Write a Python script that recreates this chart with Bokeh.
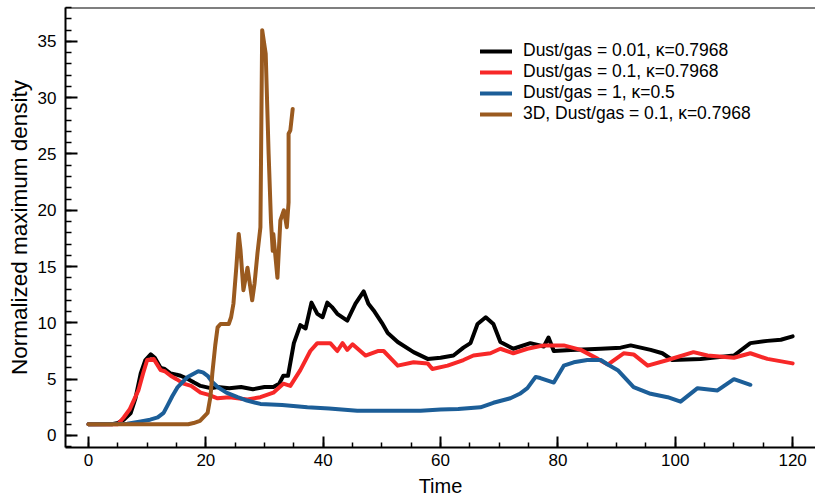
from bokeh.plotting import figure
from bokeh.models import Legend, LegendItem, Range1d, SingleIntervalTicker, Span
from bokeh.embed import file_html
from bokeh.resources import INLINE

# Dust/gas = 0.01, kappa=0.7968
black_x = [0, 4, 5, 6, 7.2, 8, 8.9, 9.7, 10.6, 11.3, 12.3, 13, 14, 15, 15.7, 17, 18, 19.1, 20.8, 22, 24, 26, 28, 30, 31.5, 32.5, 33.2, 34, 35, 36.1, 37, 38, 39, 39.9, 40.7, 41.5, 42.4, 44.1, 45.5, 46.9, 47.7, 48.6, 50, 51, 52.7, 55.4, 57.8, 60, 62.2, 63.9, 65.1, 66.3, 67.7, 69, 70.2, 72.4, 75.3, 77.6, 78.4, 79.3, 82.2, 87.3, 90.7, 92.4, 95.8, 97.8, 99.5, 104.3, 110, 112.8, 115.7, 118, 120]
black_y = [1, 1, 1.1, 1.4, 2.0, 3.3, 5.5, 6.7, 7.2, 6.9, 6.0, 5.9, 5.5, 5.4, 5.3, 5.0, 4.7, 4.4, 4.2, 4.3, 4.2, 4.3, 4.1, 4.3, 4.3, 4.6, 5.3, 5.3, 8.2, 9.8, 9.5, 11.8, 10.8, 10.5, 11.8, 11.4, 10.8, 10.2, 11.7, 12.8, 11.7, 11.1, 10.0, 9.1, 8.3, 7.4, 6.8, 6.9, 7.1, 7.8, 8.2, 9.9, 10.5, 9.9, 8.3, 7.7, 8.2, 7.9, 8.7, 7.5, 7.6, 7.7, 7.8, 8.0, 7.6, 7.3, 6.7, 6.8, 7.1, 8.2, 8.4, 8.5, 8.8]

# Dust/gas = 0.1, kappa=0.7968
red_x = [0, 5, 6, 7, 8.5, 9.3, 10, 11.1, 12.3, 13, 14, 15, 16.2, 17.5, 19.1, 20.5, 22, 24, 27.1, 29.3, 31.5, 33.2, 34.4, 36.1, 37.8, 39, 41.2, 42.4, 43.3, 44.1, 45, 47.2, 49.3, 50.3, 52.7, 55.4, 57.8, 58.6, 61.2, 63.9, 65.6, 68.5, 70.2, 72.4, 74.8, 77.6, 81, 83.9, 86.8, 88.5, 91.2, 92.9, 95.3, 98.7, 103.1, 105.5, 110, 112.8, 115.7, 120]
red_y = [1, 1, 1.6, 2.3, 4.0, 5.5, 6.7, 6.8, 5.8, 5.7, 5.3, 5.0, 4.6, 4.4, 3.8, 3.6, 3.3, 3.4, 3.2, 3.4, 3.8, 4.6, 4.4, 5.8, 7.5, 8.2, 8.2, 7.5, 8.2, 7.6, 8.1, 7.1, 7.5, 7.5, 6.2, 6.5, 6.4, 5.9, 6.2, 6.7, 7.1, 7.3, 7.7, 7.3, 7.7, 8.0, 8.0, 7.6, 6.8, 6.3, 7.3, 7.2, 6.2, 6.7, 7.4, 7.1, 6.9, 7.3, 6.8, 6.4]

# Dust/gas = 1, kappa=0.5
blue_x = [0, 6.6, 8.9, 10.5, 11.8, 12.8, 13.5, 14.3, 15.2, 16.9, 18.7, 19.5, 20.3, 21, 22, 23.5, 25.4, 27, 29.3, 33, 37.3, 41, 45.8, 50, 54.4, 56.6, 60, 63, 66.8, 69, 71.9, 73.5, 74.8, 76.2, 77, 79.3, 81, 82.7, 85, 87.3, 88.5, 90.2, 92.9, 95.8, 98.7, 100.9, 103.8, 107.2, 110, 112.8]
blue_y = [1, 1.05, 1.25, 1.4, 1.6, 2.0, 2.7, 3.5, 4.3, 5.2, 5.7, 5.6, 5.3, 4.8, 4.3, 3.8, 3.4, 3.1, 2.8, 2.7, 2.5, 2.4, 2.2, 2.2, 2.2, 2.2, 2.3, 2.35, 2.5, 2.9, 3.3, 3.7, 4.2, 5.2, 5.1, 4.7, 6.2, 6.5, 6.7, 6.7, 6.3, 5.8, 4.3, 3.7, 3.4, 3.0, 4.2, 4.0, 5.0, 4.5]

# 3D, Dust/gas = 0.1, kappa=0.7968
brown_x = [0, 17, 17.9, 19, 20.3, 20.8, 21.1, 21.6, 22, 22.5, 23.9, 24.3, 24.7, 25.2, 25.6, 25.9, 26.4, 27.1, 27.9, 28.3, 28.8, 29.3, 29.6, 30.2, 30.7, 31.1, 31.4, 31.5, 32.2, 32.7, 33.3, 33.8, 34.1, 34.1, 34.4, 34.8]
brown_y = [1, 1.0, 1.1, 1.3, 2.0, 3.5, 5.5, 8.0, 9.6, 9.9, 9.9, 10.5, 11.7, 15.0, 17.9, 16.5, 12.9, 14.9, 12.0, 13.5, 16.2, 18.5, 36.0, 33.9, 25.0, 19.0, 16.4, 17.9, 14.0, 19.1, 20.0, 18.5, 20.7, 26.8, 27.1, 29.0]

labels = ["Dust/gas = 0.01, \u03ba=0.7968", "Dust/gas = 0.1, \u03ba=0.7968",
          "Dust/gas = 1, \u03ba=0.5", "3D, Dust/gas = 0.1, \u03ba=0.7968"]
colors = ["black", "#f72828", "#1c5e98", "#9a5a1f"]

FONT = "Liberation Sans"
Y_END = 38.01

p = figure(width=815, height=501, x_range=Range1d(-3.92, 123.9), y_range=Range1d(-1.07, Y_END),
           output_backend="svg", toolbar_location=None,
           min_border_left=65, min_border_right=0, min_border_top=7, min_border_bottom=54)
p.outline_line_color = None
p.xgrid.visible = False
p.ygrid.visible = False
p.background_fill_color = "white"
p.border_fill_color = "white"

p.xaxis.ticker = SingleIntervalTicker(interval=20, num_minor_ticks=4)
p.yaxis.ticker = SingleIntervalTicker(interval=5, num_minor_ticks=5)
p.xaxis.axis_label = "Time"
p.yaxis.axis_label = "Normalized maximum density"

for ax in (p.xaxis, p.yaxis):
    ax.axis_line_width = 2
    ax.axis_line_color = "black"
    ax.major_tick_out = 0
    ax.minor_tick_out = 0
    ax.major_tick_line_width = 2
    ax.minor_tick_line_width = 1.5
    ax.major_tick_line_color = "black"
    ax.minor_tick_line_color = "black"
    ax.major_label_text_font = FONT
    ax.major_label_text_font_size = "17px"
    ax.major_label_text_color = "black"
    ax.axis_label_text_font = FONT
    ax.axis_label_text_font_style = "normal"
    ax.axis_label_text_color = "black"

p.xaxis.major_tick_in = 11
p.xaxis.minor_tick_in = 5
p.yaxis.major_tick_in = 12
p.yaxis.minor_tick_in = 6
p.xaxis.axis_label_text_font_size = "20px"
p.yaxis.axis_label_text_font_size = "22.5px"
p.xaxis.major_label_standoff = 6
p.yaxis.major_label_standoff = 9
p.xaxis.axis_label_standoff = 6
p.yaxis.axis_label_standoff = 3

top_line = Span(location=Y_END, dimension="width", line_color="black", line_width=2)
p.add_layout(top_line)

renderers = []
for xs, ys, c in [(black_x, black_y, colors[0]), (red_x, red_y, colors[1]),
                  (blue_x, blue_y, colors[2]), (brown_x, brown_y, colors[3])]:
    r = p.line(xs, ys, line_color=c, line_width=4, line_join="round", line_cap="round")
    renderers.append(r)

legend = Legend(items=[LegendItem(label=l, renderers=[r]) for l, r in zip(labels, renderers)],
                location=(415, 323), padding=0, margin=0, border_line_color=None,
                background_fill_alpha=0, glyph_width=32, glyph_height=20, label_height=20,
                spacing=0, label_standoff=11, label_text_font=FONT, label_text_font_size="17.5px",
                label_text_color="black")
p.add_layout(legend, "center")

open("out.html", "w").write(file_html(p, INLINE))
